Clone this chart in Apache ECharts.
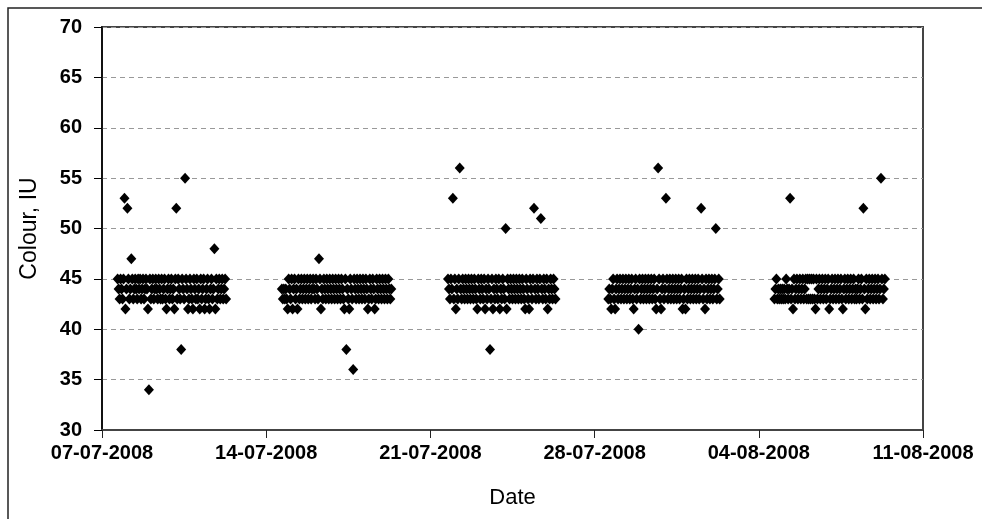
<!DOCTYPE html>
<html>
<head>
<meta charset="utf-8">
<script src="https://cdn.jsdelivr.net/npm/echarts@6/dist/echarts.min.js"></script>
<style>
  html, body { margin: 0; padding: 0; background: #fff; }
  #chart { width: 982px; height: 519px; }
</style>
</head>
<body>
<div id="chart"></div>
<script>
// hourly colour readings, one array per production run
const origin = '07-07-2008';
const stepHours = 1;
const runStarts = ['07-07-2008 16:00', '14-07-2008 16:00', '21-07-2008 18:00', '28-07-2008 14:00', '04-08-2008 16:00'];

const run1 = [
  45,44,43,45,44,43,45,53,42,44,52,45,
  43,44,47,45,43,44,45,44,43,45,44,45,
  43,44,45,43,44,45,44,42,34,45,43,44,
  45,43,44,45,44,43,45,44,43,45,43,44,
  45,43,42,44,45,43,44,45,43,44,42,45,
  52,43,45,44,43,38,45,44,43,55,45,44,
  42,43,45,44,43,42,45,44,43,45,43,44,
  42,45,43,44,45,42,43,44,45,43,42,44,
  45,43,44,48,42,45,43,44,45,43,44,45,
  43,44,45,43
];
const run2 = [
  44,43,44,43,44,43,42,45,44,43,45,42,
  44,45,43,44,42,45,43,44,45,43,44,45,
  43,44,45,43,44,45,43,44,45,44,43,45,
  44,43,47,45,42,44,43,45,44,43,45,44,
  43,45,44,43,45,44,43,45,44,43,45,44,
  43,45,44,43,42,45,38,44,43,42,45,44,
  43,36,45,44,43,45,44,43,45,44,43,45,
  44,43,45,44,42,43,45,44,43,45,44,42,
  43,45,44,43,45,44,43,45,44,43,45,44,
  43,45,44,43,44
];
const run3 = [
  45,44,43,45,44,53,43,45,42,44,43,45,
  56,44,43,45,44,43,45,44,43,45,44,43,
  45,44,43,45,44,43,42,45,44,43,45,44,
  43,45,42,44,43,45,44,38,43,45,42,44,
  43,45,44,43,45,42,44,43,45,44,43,50,
  42,45,44,43,45,44,43,45,44,43,45,44,
  43,45,44,43,45,44,43,42,45,44,43,42,
  45,44,43,45,52,44,43,45,44,43,45,51,
  44,43,45,44,43,45,42,44,43,45,44,43,
  45,44,43
];
const run4 = [
  43,44,43,42,44,45,43,42,44,45,43,44,
  45,43,44,45,43,44,45,43,44,45,43,44,
  45,43,42,44,45,43,44,40,45,43,44,45,
  43,44,45,43,44,45,43,44,45,43,44,45,
  43,42,44,56,45,43,42,44,45,43,44,53,
  45,43,44,45,43,44,45,43,44,45,43,44,
  45,43,44,45,42,43,44,42,45,43,44,45,
  43,44,45,43,44,45,43,44,45,43,44,52,
  45,43,44,42,45,43,44,45,43,44,45,43,
  44,45,50,43,44,45,43
];
const run5 = [
  43,44,45,43,44,43,44,43,44,43,44,43,
  45,44,43,44,53,43,44,42,45,43,44,45,
  43,44,45,43,44,45,43,44,45,43,45,43,
  45,43,45,43,45,43,42,45,43,44,45,43,
  44,45,43,44,45,43,44,45,42,43,44,45,
  43,44,45,43,44,45,43,44,45,43,42,44,
  45,43,44,45,43,44,45,43,44,45,43,44,
  43,44,45,43,44,45,43,52,44,42,45,43,
  44,45,43,44,45,43,44,45,43,44,45,43,
  44,55,45,43,44,45
];
const runs = [run1, run2, run3, run4, run5];

const yTicks = [30, 35, 40, 45, 50, 55, 60, 65, 70];
const xTickDays = 7;
const xSpanDays = 35;

const DAY = 86400000;
function parseDate(s) {
  const [d, t] = s.split(' ');
  const [dd, mm, yy] = d.split('-').map(Number);
  const [hh, mi] = (t || '00:00').split(':').map(Number);
  return Date.UTC(yy, mm - 1, dd, hh, mi);
}
const t0 = parseDate(origin);
const pad = n => (n < 10 ? '0' : '') + n;

const points = [];
runs.forEach((vals, r) => {
  const start = (parseDate(runStarts[r]) - t0) / DAY;
  vals.forEach((v, i) => points.push([start + i * stepHours / 24, v]));
});

const font = "'Liberation Sans', Arial, sans-serif";
const chart = echarts.init(document.getElementById('chart'));
chart.setOption({
  backgroundColor: '#fff',
  animation: false,
  graphic: [{
    type: 'rect',
    shape: { x: 8, y: 8, width: 1100, height: 700 },
    style: { fill: 'none', stroke: '#222', lineWidth: 1.5 },
    silent: true
  }],
  grid: {
    left: 102, right: 59, top: 27, bottom: 89,
    show: true, borderColor: '#444', borderWidth: 2,
    outerBoundsMode: 'none'
  },
  xAxis: {
    type: 'value',
    min: 0,
    max: xSpanDays,
    interval: xTickDays,
    name: 'Date',
    nameLocation: 'middle',
    nameGap: 57,
    nameTextStyle: { fontFamily: font, fontSize: 22, color: '#000' },
    axisLine: { lineStyle: { color: '#444', width: 2 } },
    axisTick: { length: 8, lineStyle: { color: '#222' } },
    axisLabel: {
      fontFamily: font, fontSize: 20, fontWeight: 'bold', color: '#000', margin: 13,
      formatter: v => {
        const d = new Date(t0 + v * DAY);
        return pad(d.getUTCDate()) + '-' + pad(d.getUTCMonth() + 1) + '-' + d.getUTCFullYear();
      }
    },
    splitLine: { show: false }
  },
  yAxis: {
    type: 'value',
    min: yTicks[0],
    max: yTicks[yTicks.length - 1],
    interval: yTicks[1] - yTicks[0],
    name: 'Colour, IU',
    nameLocation: 'middle',
    nameGap: 61,
    nameTextStyle: { fontFamily: font, fontSize: 23, color: '#000' },
    axisLine: { show: true, lineStyle: { color: '#000', width: 1.5 } },
    axisTick: { show: true, length: 8, lineStyle: { color: '#000' } },
    axisLabel: { fontFamily: font, fontSize: 20, fontWeight: 'bold', color: '#000', margin: 20 },
    splitLine: { show: true, lineStyle: { color: '#999', type: [5, 4], width: 1 } }
  },
  series: [{
    type: 'scatter',
    data: points,
    symbol: 'diamond',
    symbolSize: [10, 11],
    itemStyle: { color: '#000', opacity: 1 }
  }]
});
</script>
</body>
</html>
